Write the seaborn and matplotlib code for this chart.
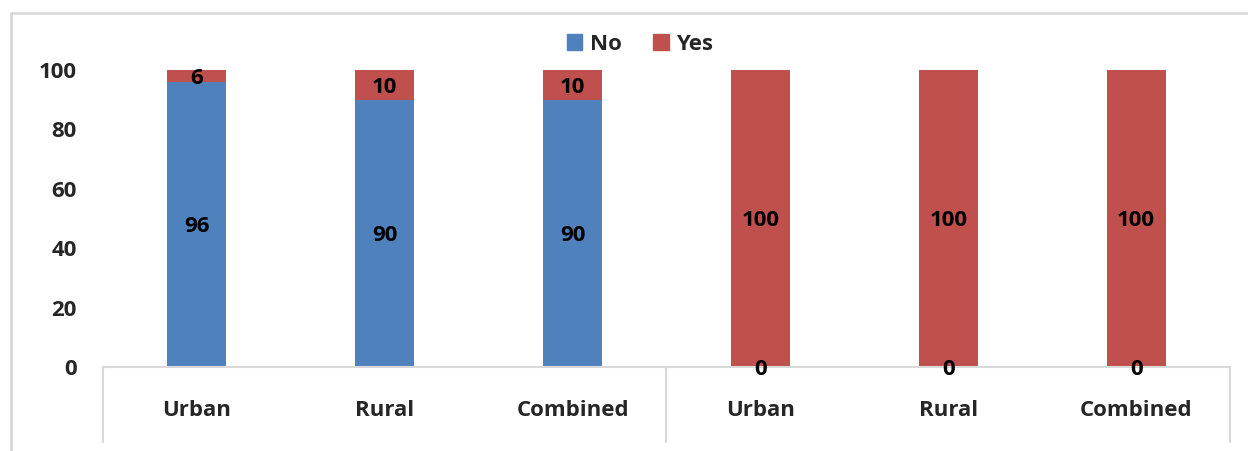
import matplotlib
matplotlib.use("Agg")
import matplotlib.pyplot as plt
import matplotlib.patches as mpatches
from matplotlib.lines import Line2D
import seaborn as sns
import pandas as pd

# Survey results: share of respondents answering No / Yes, by area, for two questions
groups = ["Q1", "Q1", "Q1", "Q2", "Q2", "Q2"]
areas = ["Urban", "Rural", "Combined", "Urban", "Rural", "Combined"]
no_vals = [96, 90, 90, 0, 0, 0]
yes_vals = [6, 10, 10, 100, 100, 100]
y_ticks = [0, 20, 40, 60, 80, 100]

BLUE = "#4F81BD"
RED = "#C0504D"
GRID = "#D9D9D9"
FS = 16

sns.set_theme(style="white")
plt.rcParams["font.family"] = ["Open Sans", "DejaVu Sans"]
plt.rcParams["font.weight"] = "bold"

keys = [f"{g}|{a}" for g, a in zip(groups, areas)]
df = pd.DataFrame({
    "key": keys,
    "area": areas,
    "no": no_vals,
    "yes": yes_vals,
    "total": [n + y for n, y in zip(no_vals, yes_vals)],
})

W, H = 1248, 451
fig = plt.figure(figsize=(W / 100, H / 100), dpi=100)
ax = fig.add_axes([103 / W, 84 / H, (1230 - 103) / W, (367 - 70) / H])

bw = 0.314
# stacked bars: full total in red, then the "No" share on top in blue
sns.barplot(data=df, x="key", y="total", order=keys, color=RED, width=bw,
            saturation=1, ax=ax, linewidth=0)
sns.barplot(data=df, x="key", y="no", order=keys, color=BLUE, width=bw,
            saturation=1, ax=ax, linewidth=0)

ax.set_ylim(0, 100)
ax.set_xlim(-0.5, len(keys) - 0.5)
ax.set_xlabel("")
ax.set_ylabel("")
ax.set_yticks(y_ticks)
ax.set_yticklabels([str(t) for t in y_ticks], fontsize=FS, fontweight="bold")
ax.set_xticks(range(len(keys)))
ax.set_xticklabels(areas, fontsize=FS, fontweight="bold")
ax.tick_params(axis="y", length=0, pad=19)
ax.tick_params(axis="x", length=0, pad=24)
for s in ["top", "right", "left"]:
    ax.spines[s].set_visible(False)
ax.spines["bottom"].set_color(GRID)
ax.spines["bottom"].set_linewidth(1.5)

# multi-level category dividers below the axis
drop = -75 / 297
for xv in [-0.5, 2.5, len(keys) - 0.5]:
    ax.add_line(Line2D([xv, xv], [0, drop], color=GRID, lw=1.5,
                       transform=ax.get_xaxis_transform(), clip_on=False))

# value labels
top = 100
for i, (n, y) in enumerate(zip(no_vals, yes_vals)):
    n_vis = min(n, top)
    ny = n_vis / 2 if n > 0 else 0
    ax.text(i, ny, f"{n}", ha="center", va="center_baseline", fontsize=FS,
            fontweight="bold", color="black", clip_on=False)
    if y > 0:
        y_top = min(n + y, top)
        ax.text(i, (n_vis + y_top) / 2, f"{y}", ha="center", va="center_baseline",
                fontsize=FS, fontweight="bold", color="black")

# legend
handles = [mpatches.Patch(color=BLUE, label="No"), mpatches.Patch(color=RED, label="Yes")]
fig.legend(handles=handles, loc="center", bbox_to_anchor=(640 / W, 1 - 44 / H),
           ncol=2, frameon=False, handlelength=0.7, handleheight=0.7,
           handletextpad=0.35, columnspacing=1.4, prop={"weight": "bold", "size": FS})

# chart frame
fig.add_artist(Line2D([11 / W, 1.0], [1 - 13 / H, 1 - 13 / H], color=GRID, lw=2,
                      transform=fig.transFigure))
fig.add_artist(Line2D([11 / W, 11 / W], [0, 1 - 13 / H], color=GRID, lw=2,
                      transform=fig.transFigure))

fig.savefig("out.png", dpi=100)
